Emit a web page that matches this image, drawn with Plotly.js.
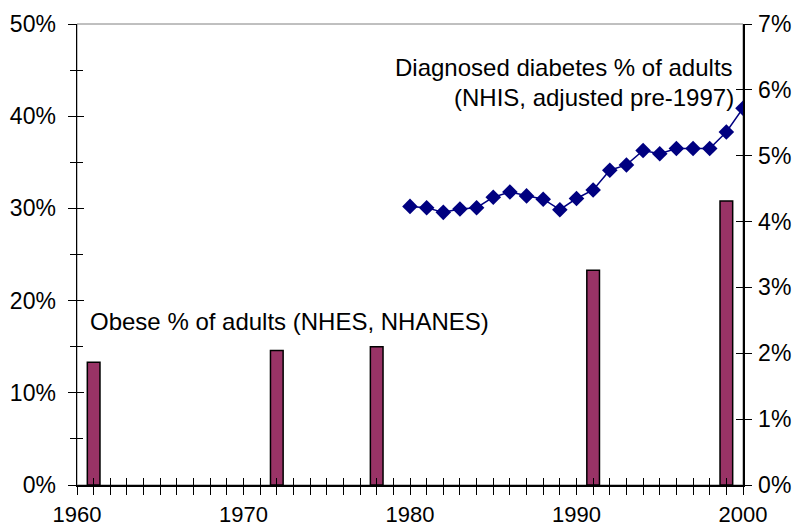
<!DOCTYPE html>
<html>
<head>
<meta charset="utf-8">
<script src="https://cdn.plot.ly/plotly-3.0.1.min.js"></script>
<style>html,body{margin:0;padding:0;background:#fff;}#chart{width:795px;height:527px;}</style>
</head>
<body>
<div id="chart"></div>
<script>
// Obesity survey years and values (fraction of adults)
var obeseYears = [1961, 1972, 1978, 1991, 1999];
var obeseValues = [0.133, 0.146, 0.150, 0.233, 0.308];

// Diagnosed diabetes (fraction of adults)
var diabYears = [1980,1981,1982,1983,1984,1985,1986,1987,1988,1989,1990,1991,1992,1993,1994,1995,1996,1997,1998,1999,2000];
var diabValues = [0.0423,0.0421,0.0414,0.0419,0.0421,0.0437,0.0445,0.0439,0.0434,0.0418,0.0435,0.0448,0.0478,0.0486,0.0508,0.0503,0.0511,0.0511,0.0511,0.0536,0.0572];

var xTickVals = [1960, 1970, 1980, 1990, 2000];
var leftTickVals = [0, 0.1, 0.2, 0.3, 0.4, 0.5];
var rightTickVals = [0, 0.01, 0.02, 0.03, 0.04, 0.05, 0.06, 0.07];

var FONT = 'Liberation Sans, Arial, sans-serif';
var FS = 23;
var XFS = 22;
var AFS = 24;

var traces = [
  {type:'bar', x: obeseYears, y: obeseValues, width: 0.76, xaxis:'x', yaxis:'y',
   marker:{color:'#993366', line:{color:'#000000', width:1.5}}, hoverinfo:'x+y'},
  {type:'scatter', mode:'lines+markers', x: diabYears, y: diabValues, xaxis:'x', yaxis:'y2',
   line:{color:'#000080', width:1.5}, marker:{symbol:'diamond', size:12, color:'#000080'}},
  {type:'scatter', x:[], y:[], xaxis:'x2', yaxis:'y3', showlegend:false},
  {type:'scatter', x:[], y:[], xaxis:'x2', yaxis:'y4', showlegend:false}
];

var layout = {
  width: 795, height: 527,
  margin: {l:77, r:52, t:24, b:42},
  paper_bgcolor:'#ffffff', plot_bgcolor:'#ffffff',
  showlegend:false,
  font:{family: FONT, size: FS, color:'#000000'},
  xaxis: {range:[1960,2000], tickvals: xTickVals, ticktext: xTickVals.map(String),
    ticks:'outside', ticklen:8, tickwidth:1, tickcolor:'#000',
    minor:{dtick:1, tick0:1960, ticks:'outside', ticklen:8, tickcolor:'#000', tickwidth:1, showgrid:false},
    showgrid:false, zeroline:false, showline:true, linecolor:'#000', linewidth:1.5,
    ticklabelstandoff:1, tickfont:{size:XFS}},
  xaxis2: {range:[1960,2000], overlaying:'x', anchor:'y3', tickvals: xTickVals,
    ticks:'inside', ticklen:7, tickcolor:'#000', showticklabels:false,
    minor:{dtick:1, tick0:1960, ticks:'inside', ticklen:7, tickcolor:'#000', showgrid:false},
    showgrid:false, zeroline:false, showline:false},
  yaxis: {range:[0,0.5], tickvals: leftTickVals, tickformat:'.0%',
    ticks:'outside', ticklen:8, tickcolor:'#000',
    minor:{dtick:0.05, tick0:0, ticks:'outside', ticklen:6, tickcolor:'#000', showgrid:false},
    showgrid:false, zeroline:false, showline:true, linecolor:'#000', linewidth:1.5,
    ticklabelstandoff:7, tickfont:{size:FS}},
  yaxis3: {range:[0,0.5], overlaying:'y', anchor:'x2', side:'left', tickvals: leftTickVals,
    ticks:'inside', ticklen:7, tickcolor:'#000', showticklabels:false,
    minor:{dtick:0.05, tick0:0, ticks:'inside', ticklen:6, tickcolor:'#000', showgrid:false},
    showgrid:false, zeroline:false, showline:false},
  yaxis2: {range:[0,0.07], overlaying:'y', side:'right', anchor:'x', tickvals: rightTickVals, tickformat:'.0%',
    ticks:'outside', ticklen:7, tickcolor:'#000',
    showgrid:false, zeroline:false, showline:true, linecolor:'#000', linewidth:1.5,
    ticklabelstandoff:2, tickfont:{size:FS}},
  yaxis4: {range:[0,0.07], overlaying:'y', side:'right', anchor:'x2', tickvals: rightTickVals,
    ticks:'inside', ticklen:7, tickcolor:'#000', showticklabels:false,
    showgrid:false, zeroline:false, showline:false},
  shapes: [
    {type:'rect', xref:'paper', yref:'paper', x0:0, x1:1, y0:0, y1:1, line:{color:'#808080', width:1}, layer:'below'}
  ],
  annotations: [
    {xref:'paper', yref:'paper', x:0.988, y:0.9046, xanchor:'right', yanchor:'middle', showarrow:false,
     text:'Diagnosed diabetes % of adults', font:{size:AFS}},
    {xref:'paper', yref:'paper', x:0.989, y:0.8395, xanchor:'right', yanchor:'middle', showarrow:false,
     text:'(NHIS, adjusted pre-1997)', font:{size:AFS}},
    {xref:'paper', yref:'paper', x:0.017, y:0.3557, xanchor:'left', yanchor:'middle', showarrow:false,
     text:'Obese % of adults (NHES, NHANES)', font:{size:AFS}}
  ]
};

Plotly.newPlot('chart', traces, layout, {displayModeBar:false, staticPlot:true});
</script>
</body>
</html>
